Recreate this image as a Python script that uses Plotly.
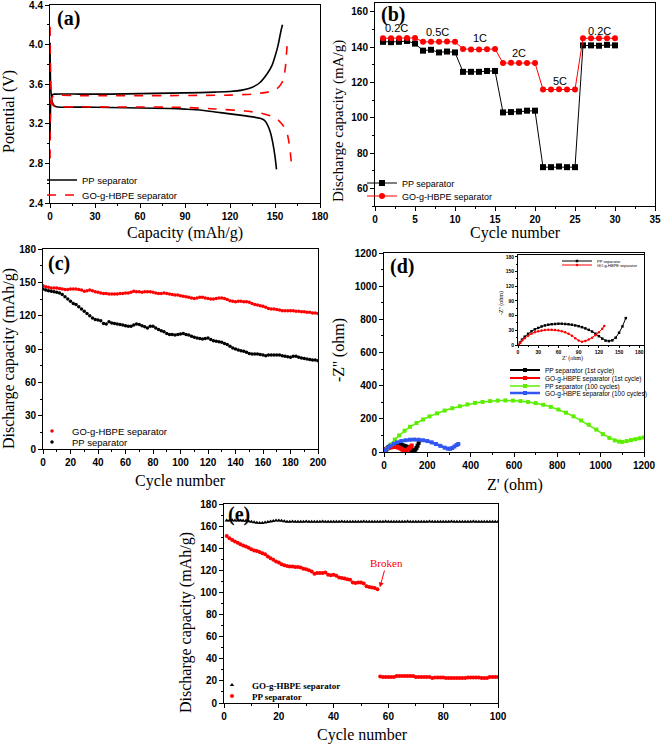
import plotly.graph_objects as go

W, H = 661, 745

# ---------------- (a) charge / discharge curves ----------------
pp_charge_cap = [0, 0.5, 1.5, 3, 20, 40, 60, 80, 100, 110, 120, 128, 135, 140, 145, 148, 150, 152, 154, 155]
pp_charge_v = [3.05, 3.40, 3.49, 3.50, 3.50, 3.50, 3.505, 3.51, 3.515, 3.52, 3.526, 3.54, 3.57, 3.617, 3.71, 3.79, 3.88, 3.99, 4.14, 4.2]
pp_dis_cap = [0, 0.5, 1.5, 3, 5, 20, 40, 60, 80, 90, 100, 110, 120, 128, 135, 140, 143, 145, 147, 148.5, 150, 151]
pp_dis_v = [4.02, 3.55, 3.42, 3.38, 3.37, 3.368, 3.365, 3.36, 3.355, 3.348, 3.34, 3.32, 3.30, 3.285, 3.27, 3.255, 3.235, 3.19, 3.11, 3.01, 2.87, 2.74]
go_charge_cap = [0, 0.3, 1, 3, 20, 40, 60, 80, 100, 120, 135, 145, 150, 153, 155.5, 157, 158, 158.5]
go_charge_v = [2.85, 3.30, 3.46, 3.485, 3.485, 3.485, 3.485, 3.485, 3.487, 3.49, 3.50, 3.52, 3.54, 3.58, 3.64, 3.78, 3.98, 4.08]
go_dis_cap = [0, 0.5, 1.5, 3, 20, 40, 60, 80, 90, 110, 130, 140, 147, 152, 155, 157.5, 159, 160, 161]
go_dis_v = [4.18, 3.60, 3.40, 3.375, 3.372, 3.37, 3.37, 3.368, 3.365, 3.35, 3.33, 3.31, 3.28, 3.24, 3.19, 3.14, 3.04, 2.94, 2.79]

# ---------------- (b) rate capability ----------------
rate_cycles = list(range(1, 31))
pp_rate = [143, 142.8, 143, 143.5, 142, 138, 138.5, 137, 137.5, 137,
           126, 126, 126, 126.5, 126.5, 103, 103.2, 103.5, 104, 104,
           72, 72, 72.4, 72, 72, 141, 141, 140.8, 141.3, 141]
go_rate = [145, 145, 145, 145.2, 145.2, 143, 143, 143, 143.2, 143,
           139, 138.6, 138.6, 138.8, 139, 131, 131.2, 131, 131, 131,
           116, 116, 116.2, 116, 116, 145, 145, 145, 145, 145]
rate_labels = ["0.2C", "0.5C", "1C", "2C", "5C", "0.2C"]
rate_label_x = [2.7, 7.8, 13.1, 18.0, 23.1, 28.0]
rate_label_y = [151, 148.3, 145, 136.6, 121, 149.2]

# ---------------- (c) long cycling ----------------
cyc_c = list(range(0, 201, 2))
go_cyc = [147, 146, 145.5, 145, 145, 145, 144.5, 144, 143.5, 143.5,
          144, 144, 144, 143.5, 143, 142, 142.5, 143, 142.5, 141.5,
          141, 140.5, 140, 140, 139.5, 139.5, 139.5, 139.5, 140, 140,
          140.5, 140.5, 141, 142, 141.5, 141.5, 141, 141.5, 141.5, 141.5,
          141, 140.5, 140, 140, 140.5, 140, 139.5, 139, 138.5, 138.5,
          138, 137.5, 137, 136.5, 136, 135.5, 136, 136.5, 136.5, 136,
          135.5, 135, 135, 135.5, 136, 136, 135.5, 134.5, 133.5, 133,
          132.5, 133, 133, 132.5, 132.5, 132, 131, 130, 129.5, 129,
          128.5, 127.5, 126.5, 126, 126, 125.5, 125, 124.5, 124.5, 124.5,
          124.5, 124.5, 124, 124, 123.5, 123.5, 123, 123, 122.5, 122.5, 122]
pp_cyc = [144, 143, 142.5, 142, 141.5, 141, 140.5, 139, 137, 135,
          133, 131, 130, 128, 126, 124, 122, 120, 118, 116.5,
          116, 115.5, 113, 112.5, 114.5, 113.5, 113, 112.5, 112, 111.5,
          111, 110.5, 110.5, 111.5, 112.5, 112, 111, 110, 109, 110.5,
          110.5, 109, 107.5, 106.5, 105.5, 104, 103, 103, 102.5, 103,
          103.5, 104, 103, 102.5, 101.5, 100.5, 100, 99.5, 99, 99.5,
          100, 98.5, 97.5, 97, 96.5, 96, 95, 94, 92.5, 91,
          90, 89, 88.5, 88, 87, 86, 85.5, 85.5, 85.5, 85,
          84.5, 84, 84.5, 84.5, 84.5, 84.5, 84.5, 84, 83.5, 83,
          82.5, 83.5, 83.5, 82.5, 82, 81.5, 81, 80.5, 80, 80, 79.5]

# ---------------- (d) EIS ----------------
pp1_zr = [1, 3, 6, 10, 15, 20, 25, 30, 35, 40, 45, 50, 55, 60, 65, 70, 75, 80, 85, 90,
          95, 100, 105, 110, 115, 120, 125, 130, 135, 140, 145, 150, 155, 160]
pp1_zi = [0, 5, 11, 17, 23, 28, 32, 35, 38, 40, 41.5, 42.5, 43, 43.5, 43.5, 43, 42.5, 41.5, 40, 38.5,
          36.5, 34, 31, 27.5, 23, 18, 13, 9, 8, 9.5, 15, 25, 38, 55]
go1_zr = [1, 3, 6, 10, 15, 20, 25, 30, 35, 40, 45, 50, 55, 60, 65, 70, 75, 80, 85, 90,
          95, 100, 105, 110, 115, 120, 125, 128]
go1_zi = [0, 4, 9, 14, 19, 23, 26, 28, 29.5, 30.5, 31, 31, 30.5, 29.5, 28, 26, 23, 19, 14, 9,
          6.5, 8, 11, 15, 20, 26, 33, 39]
pp100_zr = [5, 15, 30, 50, 70, 95, 120, 150, 180, 210, 245, 280, 315, 350, 385, 420, 455, 490,
            525, 560, 595, 630, 665, 700, 735, 770, 805, 840, 875, 910, 945, 980, 1010, 1040,
            1065, 1085, 1100, 1120, 1140, 1160, 1180, 1200]
pp100_zi = [0, 20, 45, 75, 100, 128, 152, 175, 196, 215, 233, 250, 264, 276, 287, 296, 302, 307,
            310, 311, 310, 307, 302, 295, 285, 272, 256, 237, 215, 190, 165, 135, 108, 85,
            70, 63, 61, 66, 72, 77, 83, 88]
go100_zr = [3, 10, 20, 30, 45, 60, 80, 100, 120, 140, 160, 180, 200, 220, 240, 260, 280, 295,
            305, 315, 325, 335, 343]
go100_zi = [0, 12, 27, 38, 50, 58, 66, 71, 74, 75, 74, 71, 66, 58, 48, 37, 26, 20,
            19, 24, 33, 42, 48]

# ---------------- (e) cycling with broken separator ----------------
cyc_e = list(range(1, 101))
go_e = [165.0, 165.0, 165.2, 165.0, 165.0, 165.0, 164.8, 164.8, 164.5, 164.0,
        163.5, 163.0, 162.8, 162.8, 163.2, 163.8, 164.2, 164.6, 165.0, 165.0,
        164.8, 164.4, 164.0, 164.0, 164.1, 164.0, 163.9, 164.0, 164.0, 164.1,
        164.0, 164.0, 163.9, 164.0, 164.0, 164.1, 164.0, 164.0, 164.0, 163.9,
        164.0, 164.0, 164.1, 164.0, 164.0, 164.0, 163.9, 164.0, 164.0, 164.0,
        164.1, 164.0, 164.0, 164.0, 163.9, 164.0, 164.0, 164.0, 164.1, 164.0,
        164.0, 164.0, 163.9, 164.0, 164.0, 164.0, 164.1, 164.0, 164.0, 164.0,
        163.9, 164.0, 164.0, 164.0, 164.1, 164.0, 164.0, 164.0, 163.9, 164.0,
        164.0, 164.0, 164.1, 164.0, 164.0, 164.0, 163.9, 164.0, 164.0, 164.0,
        164.1, 164.0, 164.0, 164.0, 163.9, 164.0, 164.0, 164.0, 164.0, 164.0]
pp_e = [151, 149, 147.5, 146, 145, 143.5, 142.5, 141.5, 140.5, 139,
        138, 137.5, 136.5, 135.5, 134.5, 132.5, 131, 129.5, 128, 127,
        125.5, 124.5, 124, 123.5, 123.5, 123, 123, 122.5, 121.5, 121,
        120, 119, 117, 117.5, 117.5, 117.5, 118, 116, 115.5, 116,
        115, 113.5, 113, 112.5, 112, 111.5, 109, 108.5, 109, 109,
        108, 105.5, 105, 104.5, 104, 103, 24, 23.5, 23.5, 23.5,
        23.5, 23.5, 24.5, 24.5, 24.5, 24.5, 24.5, 24.5, 24.5, 23.5,
        23.5, 23.5, 23.5, 23.5, 23.5, 22.5, 23, 23, 23, 23,
        22.5, 22.5, 22.5, 22.5, 22.5, 22.5, 22.5, 22.5, 23, 23,
        23, 23, 23, 22.5, 22.5, 22.5, 23.5, 23.5, 23.5, 23.5]

RED = "#ff0000"
GREEN = "#5cee00"
BLUE = "#3256f2"
SANS = "Liberation Sans"
SERIF = "Liberation Serif"


def dx(a, b):
    return [a / W, b / W]


def dy(top, bottom):
    return [1 - bottom / H, 1 - top / H]


def axis(dom, rng, dtick, anchor, minor=None, fmt=None, fs=10, tl=4):
    d = dict(domain=dom, range=rng, dtick=dtick, tick0=0, anchor=anchor,
             showline=True, mirror=True, linecolor="black", linewidth=1,
             ticks="outside", ticklen=tl, tickcolor="black", tickwidth=1,
             showgrid=False, zeroline=False, fixedrange=True, automargin=False,
             ticklabeloverflow="allow",
             tickfont=dict(family=SANS, size=fs, color="black", weight="bold"))
    if minor:
        d["minor"] = dict(dtick=minor, tick0=0, ticks="outside", ticklen=tl / 2,
                          tickcolor="black", showgrid=False)
    if fmt:
        d["tickformat"] = fmt
    return d


fig = go.Figure()

# (a)
fig.add_trace(go.Scatter(x=pp_charge_cap, y=pp_charge_v, mode="lines", name="PP separator",
                         line=dict(color="black", width=1.6, shape="spline", smoothing=0.5),
                         xaxis="x", yaxis="y", legend="legend"))
fig.add_trace(go.Scatter(x=pp_dis_cap, y=pp_dis_v, mode="lines", showlegend=False,
                         line=dict(color="black", width=1.6, shape="spline", smoothing=0.5),
                         xaxis="x", yaxis="y"))
fig.add_trace(go.Scatter(x=go_charge_cap, y=go_charge_v, mode="lines", name="GO-g-HBPE separator",
                         line=dict(color=RED, width=1.6, dash="dash", shape="spline", smoothing=0.5),
                         xaxis="x", yaxis="y", legend="legend2"))
fig.add_trace(go.Scatter(x=go_dis_cap, y=go_dis_v, mode="lines", showlegend=False,
                         line=dict(color=RED, width=1.6, dash="dash", shape="spline", smoothing=0.5),
                         xaxis="x", yaxis="y"))

# (b)
fig.add_trace(go.Scatter(x=rate_cycles, y=pp_rate, mode="lines+markers", name="PP separator",
                         line=dict(color="black", width=1), marker=dict(symbol="square", size=6, color="black"),
                         xaxis="x2", yaxis="y2", legend="legend3"))
fig.add_trace(go.Scatter(x=rate_cycles, y=go_rate, mode="lines+markers", name="GO-g-HBPE separator",
                         line=dict(color=RED, width=1), marker=dict(symbol="circle", size=6, color=RED),
                         xaxis="x2", yaxis="y2", legend="legend4"))

# (c)
fig.add_trace(go.Scatter(x=cyc_c, y=go_cyc, mode="markers", name="GO-g-HBPE separator",
                         marker=dict(symbol="circle", size=3.5, color=RED),
                         xaxis="x3", yaxis="y3", legend="legend5"))
fig.add_trace(go.Scatter(x=cyc_c, y=pp_cyc, mode="markers", name="PP separator",
                         marker=dict(symbol="circle", size=3.5, color="black"),
                         xaxis="x3", yaxis="y3", legend="legend6"))

# (d) main
fig.add_trace(go.Scatter(x=pp1_zr, y=pp1_zi, mode="lines+markers", name="PP separator (1st cycle)",
                         line=dict(color="black", width=2), marker=dict(symbol="square", size=4, color="black"),
                         xaxis="x4", yaxis="y4", legend="legend7"))
fig.add_trace(go.Scatter(x=go1_zr, y=go1_zi, mode="lines+markers", name="GO-g-HBPE separator (1st cycle)",
                         line=dict(color=RED, width=2), marker=dict(symbol="square", size=4, color=RED),
                         xaxis="x4", yaxis="y4", legend="legend8"))
fig.add_trace(go.Scatter(x=pp100_zr, y=pp100_zi, mode="lines+markers", name="PP separator (100 cycles)",
                         line=dict(color=GREEN, width=1.5), marker=dict(symbol="square", size=4, color=GREEN),
                         xaxis="x4", yaxis="y4", legend="legend9"))
fig.add_trace(go.Scatter(x=go100_zr, y=go100_zi, mode="lines+markers", name="GO-g-HBPE separator (100 cycles)",
                         line=dict(color=BLUE, width=2.5), marker=dict(symbol="square", size=4, color=BLUE),
                         xaxis="x4", yaxis="y4", legend="legend10"))

# (d) inset
fig.add_trace(go.Scatter(x=pp1_zr, y=pp1_zi, mode="lines+markers", name="PP separator",
                         line=dict(color="black", width=1), marker=dict(symbol="square", size=2.5, color="black"),
                         xaxis="x5", yaxis="y5", legend="legend11"))
fig.add_trace(go.Scatter(x=go1_zr, y=go1_zi, mode="lines+markers", name="GO-g-HBPE separator",
                         line=dict(color=RED, width=1), marker=dict(symbol="circle", size=2.5, color=RED),
                         xaxis="x5", yaxis="y5", legend="legend12"))

# (e)
fig.add_trace(go.Scatter(x=cyc_e, y=go_e, mode="markers", name="GO-g-HBPE separator",
                         marker=dict(symbol="triangle-up", size=4, color="black"),
                         xaxis="x6", yaxis="y6", legend="legend13"))
fig.add_trace(go.Scatter(x=cyc_e, y=pp_e, mode="markers", name="PP separator",
                         marker=dict(symbol="circle", size=4, color=RED),
                         xaxis="x6", yaxis="y6", legend="legend14"))


def leg(text_x, y, fs, family=SANS, weight="normal", off=40):
    return dict(x=(text_x - off) / W, y=1 - y / H, xanchor="left", yanchor="middle",
                bgcolor="rgba(0,0,0,0)", borderwidth=0, itemwidth=30,
                font=dict(family=family, size=fs, color="black", weight=weight))


layout = dict(
    width=W, height=H, margin=dict(l=0, r=0, t=0, b=0, autoexpand=False),
    paper_bgcolor="white", plot_bgcolor="white", hovermode=False,
    xaxis=axis(dx(50, 320), [0, 180], 30, "y", minor=15),
    yaxis=axis(dy(5, 203), [2.4, 4.4001], 0.4, "x", minor=0.2, fmt=".1f"),
    xaxis2=axis(dx(375, 655), [0, 35], 5, "y2", minor=2.5),
    yaxis2=axis(dy(3, 206), [50, 165], 20, "x2", minor=10),
    xaxis3=axis(dx(43, 318), [0, 200], 20, "y3", minor=10),
    yaxis3=axis(dy(249, 449), [0, 180], 30, "x3", minor=15),
    xaxis4=axis(dx(384, 644), [0, 1200], 200, "y4", minor=100),
    yaxis4=axis(dy(253, 452), [0, 1200], 200, "x4", minor=100),
    xaxis5=axis(dx(518, 644), [0, 187], 30, "y5", minor=15, fs=5, tl=2),
    yaxis5=axis(dy(255, 345), [0, 184], 30, "x5", minor=15, fs=5, tl=2),
    xaxis6=axis(dx(224, 498), [0, 100], 20, "y6", minor=10),
    yaxis6=axis(dy(504, 703), [0, 180], 20, "x6", minor=10),
    legend=leg(82, 180, 9.5),
    legend2=leg(82, 195, 9.5),
    legend3=leg(402, 183, 9),
    legend4=leg(402, 196, 9),
    legend5=leg(72, 431, 9.5),
    legend6=leg(72, 442, 9.5),
    legend7=leg(545, 370, 6.5),
    legend8=leg(545, 378, 6.5),
    legend9=leg(545, 386, 6.5),
    legend10=leg(545, 393, 6.5),
    legend11=leg(597, 261, 4),
    legend12=leg(597, 265, 4),
    legend13=leg(252, 685, 9, family=SERIF, weight="bold"),
    legend14=leg(252, 696, 9, family=SERIF, weight="bold"),
)
fig.update_layout(**layout)

ann = []


def pa(text, x, y, size, family=SERIF, weight="normal", angle=0, xanchor="center", color="black"):
    ann.append(dict(text=text, x=x / W, y=1 - y / H, xref="paper", yref="paper",
                    showarrow=False, textangle=angle, xanchor=xanchor, yanchor="middle",
                    font=dict(family=family, size=size, color=color, weight=weight)))


# panel labels
pa("(a)", 55, 19, 20, weight="bold", xanchor="left")
pa("(b)", 379, 15, 20, weight="bold", xanchor="left")
pa("(c)", 46, 263, 20, weight="bold", xanchor="left")
pa("(d)", 388, 266, 20, weight="bold", xanchor="left")
pa("(e)", 226, 514, 20, weight="bold", xanchor="left")
# axis titles
pa("Capacity (mAh/g)", 185, 233, 16)
pa("Potential (V)", 9, 112, 16, angle=-90)
pa("Cycle number", 515, 233, 16)
pa("Discharge capacity (mA/g)", 339, 121, 15, angle=-90)
pa("Cycle number", 180, 481, 16)
pa("Discharge capacity (mAh/g)", 9, 359, 16, angle=-90)
pa("Z' (ohm)", 515, 485, 16)
pa("-Z'' (ohm)", 339, 350, 16, angle=-90)
pa("Z' (ohm)", 572, 358, 6)
pa("-Z'' (ohm)", 501, 303, 6, angle=-90)
pa("Cycle number", 362, 735, 16)
pa("Discharge capacity (mAh/g)", 186, 622, 16, angle=-90)

for t, xv, yv in zip(rate_labels, rate_label_x, rate_label_y):
    ann.append(dict(text=t, x=xv, y=yv, xref="x2", yref="y2", showarrow=False,
                    font=dict(family=SANS, size=11, color="black")))

ann.append(dict(text="Broken", x=56.9, y=104.6, xref="x6", yref="y6",
                ax=59.3, ay=126.6, axref="x6", ayref="y6", showarrow=True,
                arrowhead=2, arrowsize=1, arrowwidth=1, arrowcolor=RED,
                font=dict(family=SERIF, size=11, color=RED)))

fig.update_layout(annotations=ann)
# remove the browser's default 8px body margin so the figure fills the window exactly
fig.write_html("out.html", config={"displayModeBar": False},
               post_script="document.body.style.margin='0px';")
